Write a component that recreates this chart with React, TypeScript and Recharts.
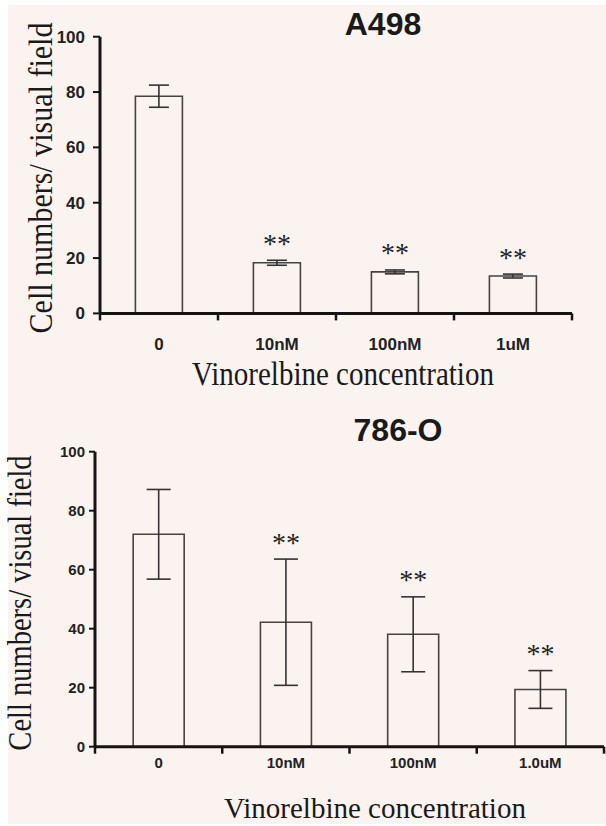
import React from 'react'
import { ComposedChart, Bar, ErrorBar, Scatter, XAxis, YAxis } from 'recharts'

// A498 panel
const concA498 = ['0', '10nM', '100nM', '1uM']
const meanA498 = [78.5, 18.3, 15.0, 13.5]
const errA498 = [4.0, 0.9, 0.7, 0.7]
const starA498 = [false, true, true, true]

// 786-O panel
const conc786 = ['0', '10nM', '100nM', '1.0uM']
const mean786 = [72, 42.2, 38.1, 19.4]
const err786 = [15.2, 21.4, 12.7, 6.4]
const star786 = [false, true, true, true]

const yTicks = [0, 20, 40, 60, 80, 100]

const bg = '#fbf3f0'
const ink = '#141414'
const sans = '"Liberation Sans", Arial, sans-serif'
const serif = '"Liberation Serif", "Times New Roman", serif'

const buildRows = (conc: string[], mean: number[], err: number[], star: boolean[]) =>
  conc.map((c, i) => ({
    conc: c,
    mean: mean[i],
    err: err[i],
    star: star[i] ? mean[i] + err[i] : null,
  }))

const rowsA498 = buildRows(concA498, meanA498, errA498, starA498)
const rows786 = buildRows(conc786, mean786, err786, star786)

// category tick: label in the band centre, tick marks on the band edges
function EdgeTick(props: any) {
  const { x, y, payload, index, gap, fontSize, count, bandHalf } = props
  const half = payload && payload.offset ? payload.offset : bandHalf
  const axisY = y - gap
  const last = index === count - 1
  return (
    <g>
      <line x1={x - half} x2={x - half} y1={axisY} y2={axisY + 7} stroke={ink} strokeWidth={2.5} />
      {last && <line x1={x + half} x2={x + half} y1={axisY} y2={axisY + 7} stroke={ink} strokeWidth={2.5} />}
      <text x={x} y={y} dy="0.71em" textAnchor="middle" fontSize={fontSize} fontWeight="bold" fontFamily={sans} fill="#222">
        {payload.value}
      </text>
    </g>
  )
}

function Stars(props: any) {
  const { cx, cy } = props
  if (cy == null || isNaN(cy)) return <g />
  return (
    <text x={cx} y={cy - 7.5} textAnchor="middle" fontSize={28} fontFamily={serif} fill="#222">
      **
    </text>
  )
}

interface PanelProps {
  rows: any[]
  top: number
  height: number
  margin: { top: number; right: number; bottom: number; left: number }
  tickFont: number
  xGap: number
  yTickSize: number
  yTickMargin: number
  capWidth: number
}

function Panel({ rows, top, height, margin, tickFont, xGap, yTickSize, yTickMargin, capWidth }: PanelProps) {
  const width = 606
  const plotW = width - margin.left - margin.right - 60
  const bandHalf = plotW / rows.length / 2
  return (
    <div style={{ position: 'absolute', left: 0, top }}>
      <ComposedChart width={width} height={height} data={rows} margin={margin} barCategoryGap="30%">
        <XAxis
          dataKey="conc"
          height={40}
          axisLine={{ stroke: ink, strokeWidth: 3 }}
          tickLine={false}
          tickSize={0}
          tickMargin={xGap}
          interval={0}
          tick={(p: any) => (
            <EdgeTick {...p} gap={xGap} fontSize={tickFont} count={rows.length} bandHalf={bandHalf} />
          )}
        />
        <YAxis
          width={60}
          domain={[0, 100]}
          ticks={yTicks}
          interval={0}
          axisLine={{ stroke: ink, strokeWidth: 3 }}
          tickLine={{ stroke: ink, strokeWidth: 2 }}
          tickSize={yTickSize}
          tickMargin={yTickMargin}
          tick={{ fontSize: tickFont, fontWeight: 'bold', fontFamily: sans, fill: '#222' }}
        />
        <Bar dataKey="mean" fill="transparent" stroke="#444" strokeWidth={1.6} isAnimationActive={false}>
          <ErrorBar dataKey="err" direction="y" width={capWidth} stroke="#333" strokeWidth={1.6} />
        </Bar>
        <Scatter dataKey="star" shape={<Stars />} isAnimationActive={false} />
      </ComposedChart>
    </div>
  )
}

function TextAt({ x, y, children, style }: { x: number; y: number; children: React.ReactNode; style: React.CSSProperties }) {
  return (
    <div
      style={{
        position: 'absolute',
        left: x,
        top: y,
        whiteSpace: 'nowrap',
        lineHeight: 1,
        color: '#1a1a1a',
        ...style,
      }}
    >
      {children}
    </div>
  )
}

export default function App() {
  return (
    <div style={{ position: 'absolute', left: 0, top: 0, width: 606, height: 826, background: '#ffffff', overflow: 'hidden' }}>
      <div style={{ position: 'absolute', left: 8, top: 5, width: 598, height: 819, background: bg }} />

      <Panel
        rows={rowsA498}
        top={0}
        height={400}
        margin={{ top: 36.7, right: 34, bottom: 46.6, left: 40 }}
        tickFont={17}
        xGap={24.6}
        yTickSize={7}
        yTickMargin={8}
        capWidth={10}
      />
      <Panel
        rows={rows786}
        top={400}
        height={426}
        margin={{ top: 51.7, right: 2, bottom: 39.3, left: 35 }}
        tickFont={15}
        xGap={10.6}
        yTickSize={6}
        yTickMargin={4}
        capWidth={12}
      />

      <TextAt x={383} y={24} style={{ fontFamily: sans, fontWeight: 'bold', fontSize: 32, transform: 'translate(-50%, -50%)' }}>
        A498
      </TextAt>
      <TextAt x={398} y={430} style={{ fontFamily: sans, fontWeight: 'bold', fontSize: 32, transform: 'translate(-50%, -50%)' }}>
        786-O
      </TextAt>

      <TextAt x={40} y={178} style={{ fontFamily: serif, fontSize: 30, transform: 'translate(-50%, -50%) rotate(-90deg) scaleY(1.15)' }}>
        Cell numbers/ visual field
      </TextAt>
      <TextAt x={21} y={603} style={{ fontFamily: serif, fontSize: 28.5, transform: 'translate(-50%, -50%) rotate(-90deg) scaleY(1.15)' }}>
        Cell numbers/ visual field
      </TextAt>

      <TextAt x={343} y={374} style={{ fontFamily: serif, fontSize: 29, transform: 'translate(-50%, -50%) scaleY(1.17)' }}>
        Vinorelbine concentration
      </TextAt>
      <TextAt x={375} y={808} style={{ fontFamily: serif, fontSize: 29, transform: 'translate(-50%, -50%)' }}>
        Vinorelbine concentration
      </TextAt>
    </div>
  )
}
